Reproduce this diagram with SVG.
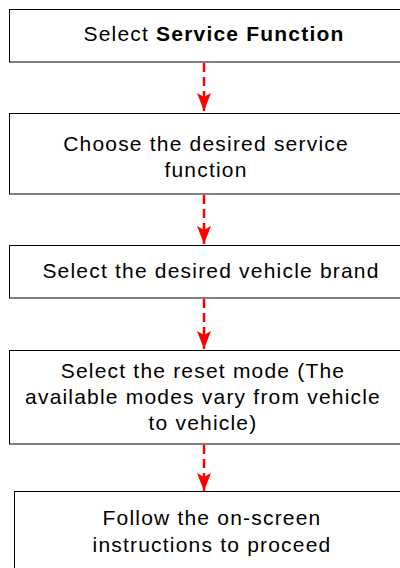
<svg xmlns="http://www.w3.org/2000/svg" width="400" height="568" viewBox="0 0 400 568">
<style>
.box{fill:#fff;stroke:#000;stroke-width:1}
.t{font-family:"Liberation Sans",Arial,sans-serif;font-size:21px;letter-spacing:1.2px;fill:#000;text-anchor:middle}
.b{font-weight:bold}
.c{stroke:#f00;stroke-width:2.5;stroke-dasharray:9,5;fill:none}
</style>
<defs>
<marker id="ah" viewBox="0 0 14 18" refX="7" refY="18" markerWidth="14" markerHeight="18" markerUnits="userSpaceOnUse" orient="0">
<path d="M0,0 L7,4 L14,0 L7,18 Z" fill="#f00"/>
</marker>
</defs>
<g id="connectors">
<path class="c" d="M204,63 V111" marker-end="url(#ah)"/>
<path class="c" d="M204,195 V244" marker-end="url(#ah)"/>
<path class="c" d="M204,299 V349" marker-end="url(#ah)"/>
<path class="c" d="M204,445 V491" marker-end="url(#ah)"/>
</g>
<g id="n1"><rect class="box" x="9.5" y="9.5" width="400" height="52.5"/>
<text class="t" x="214" y="41">Select <tspan class="b">Service Function</tspan></text></g>
<g id="n2"><rect class="box" x="9.5" y="113.5" width="400" height="80.5"/>
<text class="t" x="206" y="151">Choose the desired service</text>
<text class="t" x="206" y="177">function</text></g>
<g id="n3"><rect class="box" x="9.5" y="245.5" width="400" height="52.5"/>
<text class="t" x="211" y="278">Select the desired vehicle brand</text></g>
<g id="n4"><rect class="box" x="9.5" y="350.5" width="400" height="93.5"/>
<text class="t" x="203" y="378">Select the reset mode (The</text>
<text class="t" x="203" y="404">available modes vary from vehicle</text>
<text class="t" x="203" y="430">to vehicle)</text></g>
<g id="n5"><rect class="box" x="14.5" y="491.5" width="400" height="90"/>
<text class="t" x="212" y="525">Follow the on-screen</text>
<text class="t" x="212" y="552">instructions to proceed</text></g>
</svg>
